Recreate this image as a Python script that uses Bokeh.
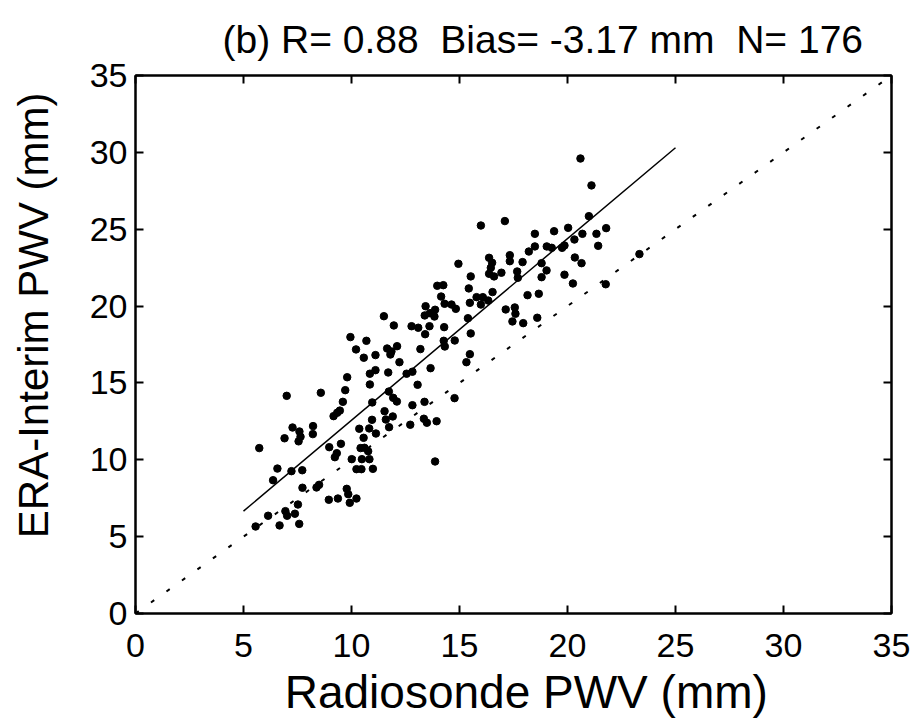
from bokeh.plotting import figure
from bokeh.models import LinearAxis, FixedTicker, Range1d, ColumnDataSource
from bokeh.embed import file_html
from bokeh.resources import INLINE

# Scatter data (Radiosonde PWV vs ERA-Interim PWV, mm)
radiosonde_pwv = [
    5.56, 6.14, 6.67, 6.94, 7.02, 7.38, 7.52, 7.58, 5.73, 6.37,
    6.57, 7.22, 7.72, 7.00, 6.90, 7.27, 7.59, 7.64, 7.55, 8.22,
    8.21, 7.73, 8.38, 8.50, 8.58, 8.95, 9.37, 8.97, 9.51, 9.32,
    9.23, 9.17, 9.34, 9.46, 9.60, 9.71, 9.80, 9.78, 9.85, 9.92,
    10.23, 10.01, 10.23, 10.46, 10.99, 10.48, 10.83, 10.42, 10.60, 10.77,
    10.56, 10.36, 10.82, 10.95, 11.13, 10.96, 10.85, 10.85, 11.11, 11.70,
    11.73, 11.93, 12.10, 11.53, 11.91, 11.59, 11.74, 12.72, 12.82, 13.06,
    12.55, 12.82, 12.22, 11.96, 12.78, 13.09, 9.95, 10.69, 10.21, 10.57,
    11.11, 11.65, 11.85, 12.11, 11.80, 13.19, 11.50, 13.66, 15.32, 14.77,
    13.38, 13.35, 13.49, 13.94, 13.87, 20.60, 21.11, 20.99, 21.34, 21.42,
    20.69, 20.32, 20.03, 19.38, 18.49, 18.49, 18.21, 19.04, 19.27, 19.75,
    19.86, 20.34, 20.65, 19.86, 20.25, 18.80, 19.03, 18.80, 17.92, 17.33,
    17.33, 17.10, 15.99, 16.37, 16.51, 16.45, 16.37, 16.60, 16.94, 17.67,
    17.70, 16.53, 18.67, 18.15, 17.14, 17.56, 17.59, 17.45, 17.95, 18.60,
    14.95, 15.52, 15.43, 15.79, 16.08, 15.99, 16.33, 15.48, 13.97, 14.25,
    14.15, 14.31, 14.63, 14.83, 13.43, 13.63, 13.87, 13.39, 13.84, 13.61,
    14.29, 13.41, 15.39, 15.52, 14.78, 14.27, 14.32, 15.48, 21.79, 23.33,
    21.77,
]
era_interim_pwv = [
    5.66, 6.36, 5.73, 6.66, 6.36, 6.49, 7.09, 5.83, 10.76, 8.67,
    9.43, 9.26, 9.32, 14.16, 11.40, 12.10, 11.84, 11.50, 11.20, 12.19,
    11.67, 8.18, 8.20, 8.37, 14.36, 7.40, 7.48, 10.82, 11.04, 10.43,
    10.17, 12.84, 13.06, 13.20, 13.77, 14.53, 15.37, 8.11, 7.76, 7.20,
    7.48, 10.04, 9.39, 9.39, 9.41, 10.04, 10.04, 10.76, 10.78, 10.56,
    11.43, 12.02, 12.04, 12.60, 11.71, 13.73, 14.90, 15.60, 15.83, 15.68,
    14.44, 14.03, 13.79, 13.16, 12.82, 12.62, 12.12, 12.28, 13.55, 14.88,
    15.60, 15.73, 16.35, 18.74, 18.69, 18.59, 17.98, 17.74, 17.18, 16.64,
    16.81, 17.24, 17.05, 17.39, 16.85, 17.20, 19.34, 15.96, 16.35, 14.01,
    13.77, 12.67, 12.41, 12.51, 9.89, 29.60, 27.85, 25.85, 24.70, 23.92,
    24.70, 24.33, 25.09, 24.87, 24.70, 23.88, 23.55, 23.88, 23.79, 23.79,
    23.94, 23.16, 22.79, 22.04, 21.47, 22.79, 22.32, 21.88, 22.86, 23.31,
    22.92, 25.53, 25.24, 23.14, 22.82, 22.49, 22.10, 21.93, 22.17, 22.25,
    21.84, 20.91, 20.80, 20.71, 19.78, 19.91, 19.50, 19.00, 18.89, 19.24,
    22.75, 21.93, 21.15, 20.58, 20.58, 20.10, 20.36, 20.21, 21.32, 21.36,
    20.62, 20.15, 20.10, 19.82, 19.99, 19.54, 19.76, 19.39, 19.32, 18.69,
    18.63, 18.17, 19.21, 18.22, 17.76, 17.74, 17.37, 16.87, 25.07, 23.38,
    21.42,
]

# Regression line end points and 1:1 line
fit_x = [5.0, 25.0]
fit_y = [6.66, 30.3]
one_to_one = [0.0, 35.0]

tick_values = [0, 5, 10, 15, 20, 25, 30, 35]
NB = "\u00a0"
title_text = "(b) R= 0.88" + NB + " Bias= -3.17 mm" + NB + " N= 176"
x_label = NB * 2 + "Radiosonde PWV (mm)"
y_label = NB * 5 + "ERA-Interim PWV (mm)"

FONT = "Liberation Sans"

p = figure(width=918, height=726, output_backend="svg", toolbar_location=None,
           x_range=Range1d(0, 35), y_range=Range1d(0, 35),
           min_border_left=135, min_border_right=27,
           min_border_top=75, min_border_bottom=113,
           x_axis_label=x_label, y_axis_label=y_label)

p.title.text = title_text
p.title.align = "left"
p.title.offset = 87
p.title.standoff = 30
p.title.text_line_height = 0.7
p.title.text_font = FONT
p.title.text_font_size = "39px"
p.title.text_font_style = "normal"
p.title.text_color = "black"

p.xgrid.visible = False
p.ygrid.visible = False
p.outline_line_color = "black"
p.outline_line_width = 2
p.background_fill_color = "white"
p.border_fill_color = "white"

def style_axis(ax, labels=True):
    ax.ticker = FixedTicker(ticks=tick_values)
    ax.major_tick_in = 8
    ax.major_tick_out = 0
    ax.minor_tick_line_color = None
    ax.axis_line_width = 2
    ax.axis_line_color = "black"
    ax.major_tick_line_width = 2
    ax.major_tick_line_color = "black"
    ax.major_label_text_font = FONT
    ax.axis_label_text_font = FONT
    ax.axis_label_text_font_style = "normal"
    ax.axis_label_text_color = "black"
    if labels:
        ax.major_label_text_font_size = "34px"
        ax.major_label_text_color = "black"
    else:
        ax.major_label_text_font_size = "1px"
        ax.major_label_text_color = None
        ax.major_label_standoff = 0

for ax in p.xaxis:
    style_axis(ax)
    ax.major_label_standoff = 20
    ax.axis_label_standoff = 6
    ax.axis_label_text_font_size = "46px"
for ax in p.yaxis:
    style_axis(ax)
    ax.major_label_standoff = 8
    ax.axis_label_standoff = 30
    ax.axis_label_text_font_size = "42px"

top_ax = LinearAxis()
style_axis(top_ax, labels=False)
p.add_layout(top_ax, "above")
right_ax = LinearAxis()
style_axis(right_ax, labels=False)
p.add_layout(right_ax, "right")

src = ColumnDataSource(dict(x=radiosonde_pwv, y=era_interim_pwv))
p.line(one_to_one, one_to_one, line_color="black", line_width=2, line_dash="4 15")
p.line(fit_x, fit_y, line_color="black", line_width=1.5)
p.scatter("x", "y", source=src, size=7.5, color="black")

open("out.html", "w").write(file_html(p, INLINE))
